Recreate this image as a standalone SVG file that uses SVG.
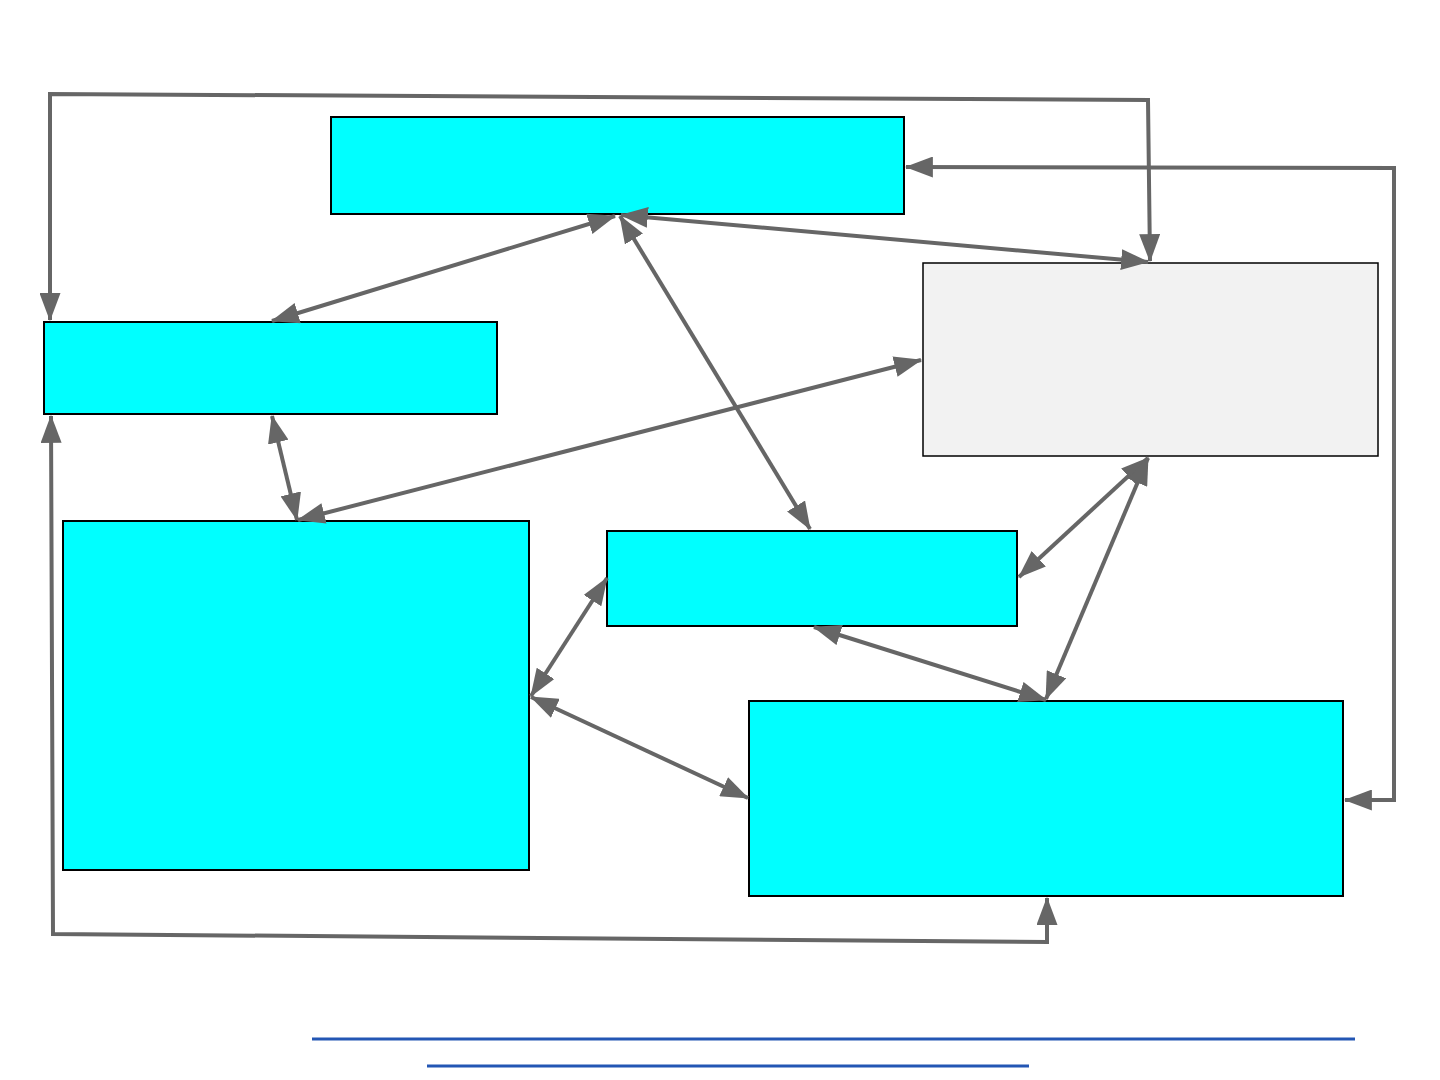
<svg xmlns="http://www.w3.org/2000/svg" width="1440" height="1080" viewBox="0 0 1440 1080">
<style>
.node{fill:#00ffff;stroke:#000;stroke-width:2}
.gray{fill:#f2f2f2;stroke:#000;stroke-width:1.5}
.c{fill:none;stroke:#666;stroke-width:4;stroke-linejoin:miter;marker-start:url(#ah);marker-end:url(#ah)}
.blue{stroke:#2356b4;stroke-width:3}
</style>
<defs>
<marker id="ah" viewBox="0 0 10 8" preserveAspectRatio="none" markerWidth="28" markerHeight="21" markerUnits="userSpaceOnUse" refX="9.6" refY="4" orient="auto-start-reverse">
<path d="M0,0 L10,4 L0,8 z" fill="#666"/>
</marker>
</defs>
<rect width="1440" height="1080" fill="#fff"/>
<g id="nodeA"><rect class="node" x="331" y="117" width="573" height="97"/></g>
<g id="nodeB"><rect class="node" x="44" y="322" width="453" height="92"/></g>
<g id="nodeC"><rect class="gray" x="923" y="263" width="455" height="193"/></g>
<g id="nodeD"><rect class="node" x="63" y="521" width="466" height="349"/></g>
<g id="nodeE"><rect class="node" x="607" y="531" width="410" height="95"/></g>
<g id="nodeF"><rect class="node" x="749" y="701" width="594" height="195"/></g>
<g id="connectors">
<polyline class="c" points="50,320 50,94 1148,100 1150,261"/>
<polyline class="c" points="906,167 1394,168 1394,800 1345,800"/>
<polyline class="c" points="51,416 53,934 1047,942 1047,898"/>
<line class="c" x1="615" y1="216" x2="272" y2="321"/>
<line class="c" x1="621" y1="215" x2="1148" y2="262"/>
<line class="c" x1="620" y1="216" x2="810" y2="529"/>
<line class="c" x1="921" y1="360" x2="298" y2="520"/>
<line class="c" x1="272" y1="416" x2="297" y2="520"/>
<line class="c" x1="1148" y1="458" x2="1019" y2="577"/>
<line class="c" x1="1148" y1="458" x2="1046" y2="699"/>
<line class="c" x1="814" y1="627" x2="1046" y2="700"/>
<line class="c" x1="607" y1="578" x2="531" y2="696"/>
<line class="c" x1="531" y1="697" x2="748" y2="798"/>
</g>
<g id="underlines">
<line class="blue" x1="312" y1="1039" x2="1355" y2="1039"/>
<line class="blue" x1="427" y1="1066" x2="1029" y2="1066"/>
</g>
</svg>
